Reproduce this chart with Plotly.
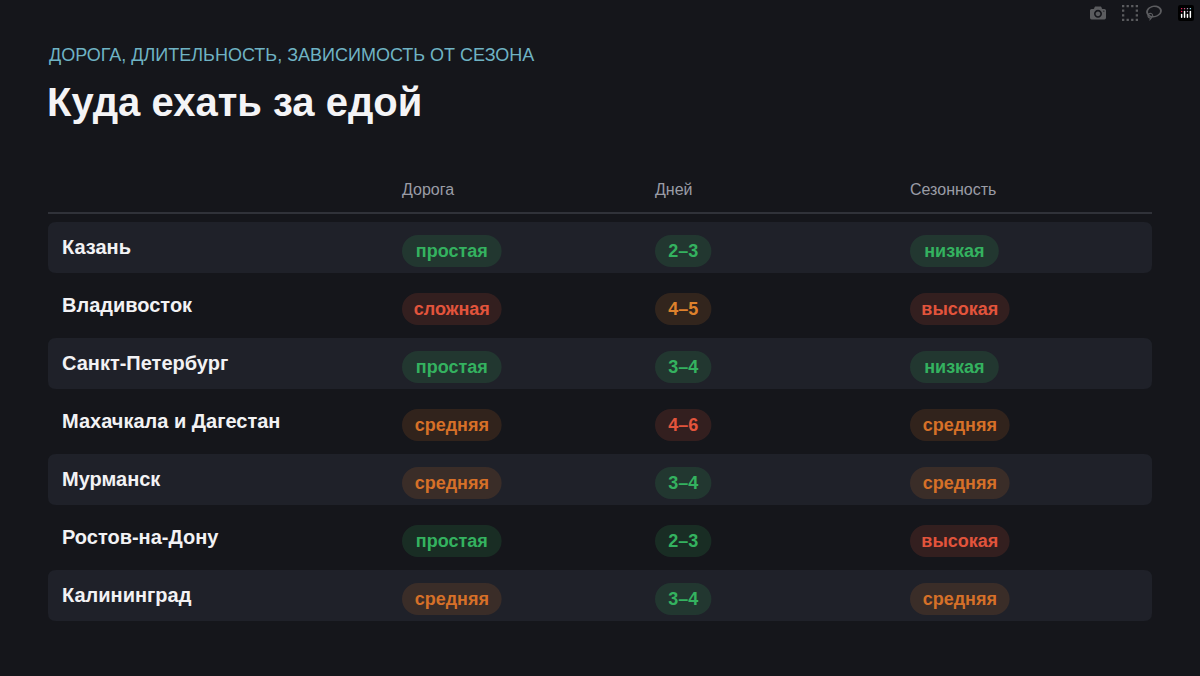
import plotly.graph_objects as go

cities = ['Казань', 'Владивосток', 'Санкт-Петербург', 'Махачкала и Дагестан',
          'Мурманск', 'Ростов-на-Дону', 'Калининград']
road = ['простая', 'сложная', 'простая', 'средняя', 'средняя', 'простая', 'средняя']
days = ['2–3', '4–5', '3–4', '4–6', '3–4', '2–3', '3–4']
season = ['низкая', 'высокая', 'низкая', 'средняя', 'средняя', 'высокая', 'средняя']
headers = ['Дорога', 'Дней', 'Сезонность']

GREEN = (52, 178, 96)
RED = (226, 84, 60)
ORANGE = (214, 112, 40)
AMBER = (222, 130, 44)
tone = {'простая': GREEN, 'низкая': GREEN, 'сложная': RED, 'высокая': RED,
        'средняя': ORANGE, '2–3': GREEN, '3–4': GREEN, '4–5': AMBER, '4–6': RED}

BG = '#15161b'
ROW = '#1f2129'
col_x = [402, 655, 910]
row_y = [248 + 58 * i for i in range(len(cities))]

def pill(x0, w, yc, h):
    r = h / 2
    x1 = x0 + w
    k = 0.5523 * r
    return (f"M{x0 + r},{yc - r} L{x1 - r},{yc - r} "
            f"C{x1 - r + k},{yc - r} {x1},{yc - k} {x1},{yc} "
            f"C{x1},{yc + k} {x1 - r + k},{yc + r} {x1 - r},{yc + r} "
            f"L{x0 + r},{yc + r} "
            f"C{x0 + r - k},{yc + r} {x0},{yc + k} {x0},{yc} "
            f"C{x0},{yc - k} {x0 + r - k},{yc - r} {x0 + r},{yc - r} Z")

def rrect(x0, x1, y0, y1, r):
    return (f"M{x0 + r},{y0} L{x1 - r},{y0} Q{x1},{y0} {x1},{y0 + r} "
            f"L{x1},{y1 - r} Q{x1},{y1} {x1 - r},{y1} L{x0 + r},{y1} "
            f"Q{x0},{y1} {x0},{y1 - r} L{x0},{y0 + r} Q{x0},{y0} {x0 + r},{y0} Z")

fig = go.Figure()
shapes = []
for i, y in enumerate(row_y):
    if i % 2 == 0:
        shapes.append(dict(type='path', path=rrect(48, 1152, y - 26, y + 25, 8),
                           fillcolor=ROW, line=dict(width=0), layer='below'))
shapes.append(dict(type='line', x0=48, x1=1152, y0=213, y1=213,
                   line=dict(color='#3a3c44', width=1.5)))

for c, vals in enumerate([road, days, season]):
    xs, ys, cols = [], [], []
    for i, v in enumerate(vals):
        rgb = tone[v]
        w = 24 + len(v) * 10.8
        shapes.append(dict(type='path', path=pill(col_x[c], w, row_y[i] + 3, 32),
                           fillcolor='rgba(%d,%d,%d,0.15)' % rgb, line=dict(width=0)))
        xs.append(col_x[c] + w / 2)
        ys.append(row_y[i] + 4)
        cols.append('rgb(%d,%d,%d)' % rgb)
    fig.add_trace(go.Scatter(x=xs, y=ys, mode='text', text=['<b>%s</b>' % v for v in vals],
                             textfont=dict(color=cols, size=18, family='Liberation Sans'),
                             hoverinfo='skip', showlegend=False))

fig.add_trace(go.Scatter(x=[62] * len(cities), y=[y + 1 for y in row_y], mode='text',
                         text=['<b>%s</b>' % c for c in cities], textposition='middle right',
                         textfont=dict(color='#f2f2f4', size=20, family='Liberation Sans'),
                         hoverinfo='skip', showlegend=False))
fig.add_trace(go.Scatter(x=col_x, y=[191] * 3, mode='text', text=headers,
                         textposition='middle right',
                         textfont=dict(color='#9a9ca6', size=16, family='Liberation Sans'),
                         hoverinfo='skip', showlegend=False))

annotations = [
    dict(x=47, y=55, text='ДОРОГА, ДЛИТЕЛЬНОСТЬ, ЗАВИСИМОСТЬ ОТ СЕЗОНА', showarrow=False,
         xanchor='left', yanchor='middle',
         font=dict(color='#6fb3c4', size=18, family='Liberation Sans')),
    dict(x=45, y=102, text='<b>Куда ехать за едой</b>', showarrow=False,
         xanchor='left', yanchor='middle',
         font=dict(color='#f4f4f6', size=40, family='Liberation Sans')),
]

fig.update_layout(
    width=1200, height=676, margin=dict(l=0, r=0, t=0, b=0),
    paper_bgcolor=BG, plot_bgcolor=BG,
    xaxis=dict(range=[0, 1200], visible=False, fixedrange=True),
    yaxis=dict(range=[676, 0], visible=False, fixedrange=True),
    shapes=shapes, annotations=annotations,
)

fig.write_html('out.html')

# drop the browser's default body margin
with open('out.html', encoding='utf-8') as f:
    html = f.read()
html = html.replace('<body>', '<body style="margin:0;background:%s">' % BG, 1)
with open('out.html', 'w', encoding='utf-8') as f:
    f.write(html)
